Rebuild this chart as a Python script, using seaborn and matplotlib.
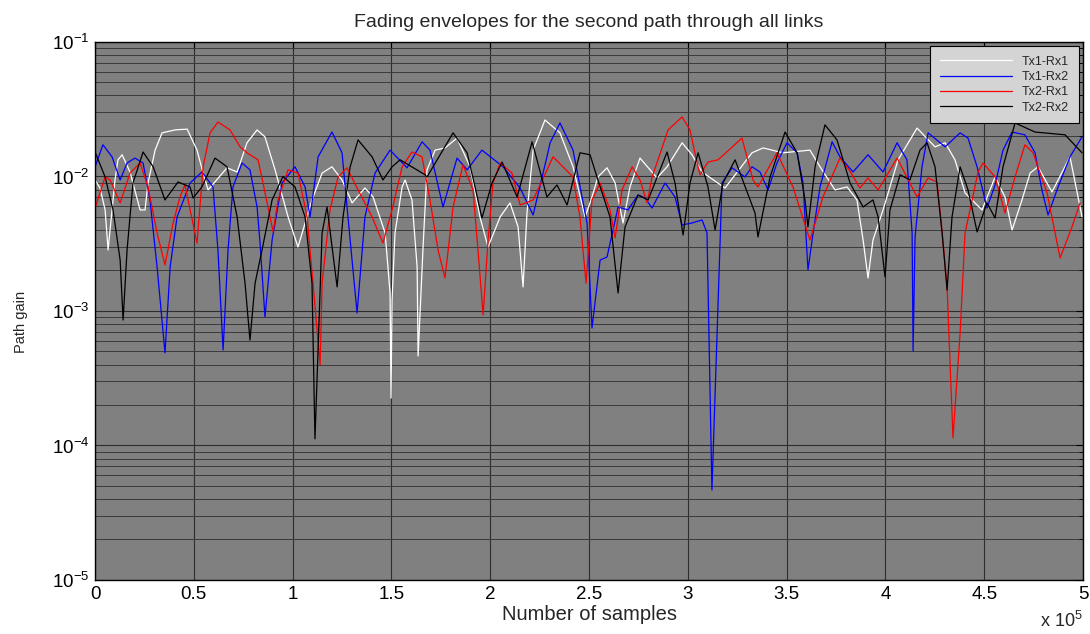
import numpy as np
import pandas as pd
import matplotlib
matplotlib.use("Agg")
import matplotlib.pyplot as plt
from matplotlib.ticker import FixedLocator, FuncFormatter, LogLocator, NullFormatter
from matplotlib.lines import Line2D
import seaborn as sns

# Sample index in units of 1e5 samples, path gain in units of 1e-3
tx1_rx1_x = [0, 0.025, 0.051, 0.066, 0.101, 0.116, 0.137, 0.177, 0.228, 0.253, 0.268, 0.304,
             0.339, 0.405, 0.466, 0.516, 0.547, 0.572, 0.668, 0.719, 0.769, 0.820, 0.860, 0.911,
             0.977, 1.027, 1.098, 1.149, 1.199, 1.250, 1.301, 1.366, 1.407, 1.468, 1.493, 1.498,
             1.503, 1.518, 1.554, 1.569, 1.604, 1.630, 1.635, 1.660, 1.680, 1.721, 1.771, 1.832,
             1.898, 1.948, 1.989, 2.050, 2.100, 2.141, 2.166, 2.186, 2.217, 2.277, 2.353, 2.419,
             2.480, 2.515, 2.545, 2.591, 2.632, 2.672, 2.707, 2.758, 2.844, 2.895, 2.971, 3.021,
             3.072, 3.188, 3.325, 3.381, 3.482, 3.618, 3.669, 3.745, 3.806, 3.856, 3.887, 3.912,
             3.937, 3.988, 4.064, 4.160, 4.251, 4.302, 4.352, 4.403, 4.438, 4.489, 4.555, 4.605,
             4.641, 4.691, 4.732, 4.772, 4.843, 4.934, 4.995]
tx1_rx1_g = [9.42, 8.21, 5.64, 2.84, 9.42, 13.3, 14.5, 10.8, 5.64, 5.64, 8.95, 15.7,
             21.1, 22.2, 22.5, 15.7, 10.6, 7.94, 11.6, 10.8, 17.8, 22.2, 19.7, 11.2,
             5.00, 2.99, 6.69, 10.6, 11.8, 9.42, 6.36, 8.21, 7.04, 3.80, 1.36, 0.225,
             1.20, 3.80, 8.36, 9.42, 6.69, 2.12, 0.463, 2.99, 11.2, 15.7, 16.3, 19.3,
             11.8, 5.00, 2.99, 5.00, 6.36, 4.21, 1.51, 5.35, 15.7, 26.3, 21.1, 11.8,
             5.00, 7.04, 9.91, 11.6, 8.95, 4.51, 8.36, 13.7, 9.75, 11.8, 17.8, 14.5,
             10.8, 8.21, 15.0, 16.3, 15.0, 15.7, 11.8, 7.94, 8.36, 6.69, 3.37, 1.76,
             3.37, 5.64, 13.3, 22.9, 16.6, 17.8, 13.3, 7.55, 6.69, 5.64, 9.91, 7.04,
             4.00, 6.69, 10.6, 11.8, 7.67, 14.0, 5.00]

tx1_rx2_x = [0, 0.040, 0.086, 0.127, 0.162, 0.202, 0.243, 0.278, 0.314, 0.354, 0.380, 0.415,
             0.481, 0.541, 0.597, 0.622, 0.648, 0.673, 0.698, 0.744, 0.784, 0.820, 0.835, 0.860,
             0.896, 0.946, 1.012, 1.063, 1.088, 1.129, 1.199, 1.250, 1.280, 1.326, 1.366, 1.417,
             1.493, 1.579, 1.655, 1.695, 1.761, 1.832, 1.883, 1.958, 2.065, 2.151, 2.217, 2.287,
             2.303, 2.353, 2.419, 2.490, 2.515, 2.556, 2.591, 2.647, 2.697, 2.748, 2.783, 2.819,
             2.885, 2.935, 2.971, 3.021, 3.072, 3.097, 3.122, 3.173, 3.224, 3.289, 3.325, 3.365,
             3.406, 3.451, 3.502, 3.553, 3.583, 3.608, 3.634, 3.669, 3.730, 3.770, 3.836, 3.912,
             3.988, 4.059, 4.109, 4.135, 4.140, 4.150, 4.185, 4.216, 4.302, 4.378, 4.418, 4.464,
             4.514, 4.555, 4.595, 4.641, 4.706, 4.757, 4.792, 4.823, 4.874, 4.934, 4.995]
tx1_rx2_g = [11.8, 17.2, 14.0, 9.42, 12.6, 13.7, 12.6, 6.69, 2.12, 0.488, 2.12, 5.00,
             8.95, 10.8, 8.36, 2.84, 0.513, 2.84, 8.36, 12.6, 11.2, 5.93, 3.20, 0.902,
             3.37, 8.95, 11.8, 8.36, 5.00, 14.0, 21.4, 15.0, 5.00, 0.966, 5.00, 10.6,
             15.7, 11.6, 18.1, 15.7, 5.93, 13.7, 11.2, 15.7, 11.8, 8.21, 5.17, 14.0,
             17.8, 25.0, 15.7, 4.51, 0.748, 2.39, 2.52, 5.93, 5.64, 7.28, 6.92, 5.83,
             8.95, 7.04, 4.36, 4.51, 4.75, 3.80, 0.0467, 8.95, 11.6, 9.91, 11.8, 10.8,
             7.94, 12.6, 17.8, 15.0, 8.95, 2.02, 3.80, 8.36, 18.1, 14.0, 10.8, 14.5,
             10.8, 17.8, 13.3, 3.80, 0.505, 3.55, 11.8, 21.1, 16.6, 21.1, 19.3, 11.8,
             5.83, 8.65, 15.7, 21.4, 20.4, 15.0, 7.94, 5.17, 8.36, 14.0, 19.7]

tx2_rx1_x = [0, 0.051, 0.076, 0.127, 0.177, 0.228, 0.268, 0.314, 0.354, 0.395, 0.430, 0.455,
             0.516, 0.547, 0.582, 0.622, 0.683, 0.734, 0.769, 0.825, 0.850, 0.901, 0.926, 0.977,
             1.027, 1.073, 1.103, 1.139, 1.149, 1.189, 1.230, 1.275, 1.331, 1.402, 1.457, 1.503,
             1.554, 1.604, 1.655, 1.695, 1.736, 1.771, 1.812, 1.862, 1.913, 1.938, 1.964, 1.989,
             2.014, 2.050, 2.110, 2.151, 2.217, 2.318, 2.419, 2.454, 2.485, 2.515, 2.556, 2.606,
             2.632, 2.667, 2.718, 2.758, 2.794, 2.819, 2.849, 2.900, 2.971, 3.011, 3.047, 3.062,
             3.102, 3.153, 3.274, 3.330, 3.355, 3.451, 3.532, 3.618, 3.684, 3.770, 3.816, 3.871,
             3.912, 3.963, 4.059, 4.160, 4.216, 4.261, 4.287, 4.312, 4.342, 4.378, 4.403, 4.469,
             4.494, 4.555, 4.605, 4.656, 4.706, 4.747, 4.818, 4.884, 4.944, 4.985]
tx2_rx1_g = [5.83, 9.91, 9.42, 6.36, 10.6, 12.6, 8.36, 3.80, 2.20, 4.51, 7.04, 8.65,
             3.20, 11.8, 21.1, 25.4, 22.2, 16.6, 15.0, 13.3, 8.95, 3.87, 6.69, 11.2,
             10.6, 5.00, 1.61, 0.397, 1.61, 5.64, 9.91, 11.6, 7.94, 5.00, 3.20, 5.64,
             11.8, 15.2, 14.0, 6.69, 2.84, 1.76, 5.93, 12.2, 7.94, 2.84, 0.933, 3.37,
             8.95, 12.6, 10.6, 6.14, 6.69, 14.0, 9.91, 5.00, 1.61, 6.69, 8.95, 5.64,
             3.49, 7.94, 11.8, 9.42, 6.36, 9.91, 13.3, 22.2, 27.7, 22.2, 12.6, 10.3,
             12.8, 13.3, 19.3, 9.42, 8.36, 15.0, 8.36, 3.37, 7.04, 13.7, 11.2, 8.21,
             9.75, 7.94, 13.7, 7.04, 9.75, 9.10, 3.80, 1.51, 0.114, 0.686, 3.80, 10.8,
             12.6, 9.91, 5.35, 9.91, 17.2, 15.0, 7.55, 2.48, 4.21, 6.36]

tx2_rx2_x = [0, 0.051, 0.091, 0.127, 0.142, 0.162, 0.192, 0.243, 0.294, 0.354, 0.420, 0.481,
             0.496, 0.541, 0.607, 0.668, 0.719, 0.759, 0.784, 0.810, 0.845, 0.896, 0.951, 1.012,
             1.063, 1.098, 1.113, 1.149, 1.174, 1.225, 1.255, 1.291, 1.331, 1.402, 1.457, 1.503,
             1.544, 1.670, 1.680, 1.812, 1.883, 1.923, 1.958, 2.009, 2.060, 2.136, 2.212, 2.287,
             2.338, 2.389, 2.454, 2.505, 2.545, 2.606, 2.647, 2.682, 2.748, 2.799, 2.895, 2.935,
             2.976, 3.011, 3.052, 3.102, 3.138, 3.178, 3.239, 3.340, 3.355, 3.416, 3.492, 3.553,
             3.593, 3.608, 3.644, 3.694, 3.755, 3.821, 3.887, 3.937, 3.963, 3.998, 4.023, 4.074,
             4.124, 4.175, 4.211, 4.251, 4.287, 4.312, 4.337, 4.378, 4.418, 4.464, 4.514, 4.555,
             4.595, 4.656, 4.757, 4.909, 4.995]
tx2_rx2_g = [15.2, 9.91, 5.64, 2.39, 0.857, 2.84, 8.95, 15.2, 11.8, 6.69, 9.10, 8.36,
             6.92, 8.36, 13.7, 11.8, 5.00, 1.61, 0.608, 1.61, 2.84, 6.69, 10.0, 8.36,
             5.00, 1.61, 0.112, 3.80, 5.93, 1.51, 5.00, 11.8, 18.7, 14.0, 9.42, 11.8,
             13.3, 10.3, 9.91, 21.1, 15.0, 8.36, 4.91, 8.95, 12.8, 7.04, 18.1, 7.04,
             8.65, 6.14, 15.0, 14.5, 9.42, 5.00, 1.36, 4.21, 7.28, 6.69, 15.2, 8.95,
             3.67, 8.95, 15.0, 8.36, 4.00, 8.95, 13.3, 5.35, 3.55, 9.91, 21.4, 15.0,
             6.69, 4.21, 11.8, 24.2, 18.7, 8.95, 5.93, 6.69, 5.00, 1.79, 5.64, 10.3,
             9.42, 15.7, 17.8, 11.8, 3.80, 1.43, 5.00, 11.8, 7.94, 3.87, 6.36, 4.91,
             11.8, 25.0, 21.4, 20.4, 15.0]

links = ["Tx1-Rx1", "Tx1-Rx2", "Tx2-Rx1", "Tx2-Rx2"]
link_colors = ["#ffffff", "#0000ff", "#ff0000", "#000000"]
x_ticks = [0, 0.5, 1, 1.5, 2, 2.5, 3, 3.5, 4, 4.5, 5]

series = [(tx1_rx1_x, tx1_rx1_g), (tx1_rx2_x, tx1_rx2_g),
          (tx2_rx1_x, tx2_rx1_g), (tx2_rx2_x, tx2_rx2_g)]
frames = []
for name, (xs, gs) in zip(links, series):
    frames.append(pd.DataFrame({"samples": np.asarray(xs),
                                "gain": np.asarray(gs) * 1e-3,
                                "link": name}))
df = pd.concat(frames, ignore_index=True)

sns.set_style("white")
plt.rcParams["font.family"] = ["Liberation Sans", "DejaVu Sans"]
plt.rcParams["mathtext.default"] = "regular"

fig = plt.figure(figsize=(10.9, 6.34), dpi=100)
ax = fig.add_axes([0.0872, 0.0852, 0.9064, 0.8486])
ax.set_facecolor("#808080")

sns.lineplot(data=df, x="samples", y="gain", hue="link", hue_order=links,
             palette=dict(zip(links, link_colors)), estimator=None, sort=False,
             linewidth=0.9, legend=False, ax=ax)

ax.set_yscale("log")
ax.set_xlim(0, 5)
ax.set_ylim(1e-5, 1e-1)
ax.xaxis.set_major_locator(FixedLocator(x_ticks))
ax.xaxis.set_major_formatter(FuncFormatter(lambda v, p: f"{v:g}"))
ax.yaxis.set_major_locator(LogLocator(base=10, numticks=10))
ax.yaxis.set_minor_locator(LogLocator(base=10, subs=np.arange(2, 10), numticks=100))
ax.yaxis.set_minor_formatter(NullFormatter())

ax.grid(True, which="major", color="#2e2e2e", linewidth=0.8)
ax.grid(True, which="minor", axis="y", color="#3a3a3a", linewidth=0.7)
ax.set_axisbelow(True)

ax.tick_params(which="both", direction="in", top=True, right=True, colors="black",
               labelsize=13.5, pad=4)
ax.tick_params(which="major", length=5, width=0.8)
ax.tick_params(which="minor", length=3, width=0.6)
for s in ax.spines.values():
    s.set_color("black")
    s.set_linewidth(1.0)

ax.set_title("Fading envelopes for the second path through all links", fontsize=14, pad=11)
ax.set_xlabel("Number of samples", fontsize=14.5, labelpad=2)
ax.set_ylabel("Path gain", fontsize=10.5)
ax.yaxis.set_label_coords(-0.068, 0.48)
ax.text(1.0, -0.058, r"x $10^{5}$", transform=ax.transAxes, ha="right", va="top", fontsize=13)

handles = [Line2D([], [], color=c, linewidth=0.9) for c in link_colors]
leg = ax.legend(handles, links, loc="upper right", fontsize=9, handlelength=5.8,
                labelspacing=0.27, borderaxespad=0.35, fancybox=False, framealpha=1,
                handletextpad=0.8, borderpad=0.75)
leg.get_frame().set_facecolor("#d4d4d4")
leg.get_frame().set_edgecolor("black")
leg.get_frame().set_linewidth(0.8)

fig.savefig("out.png", dpi=100, facecolor="white")
